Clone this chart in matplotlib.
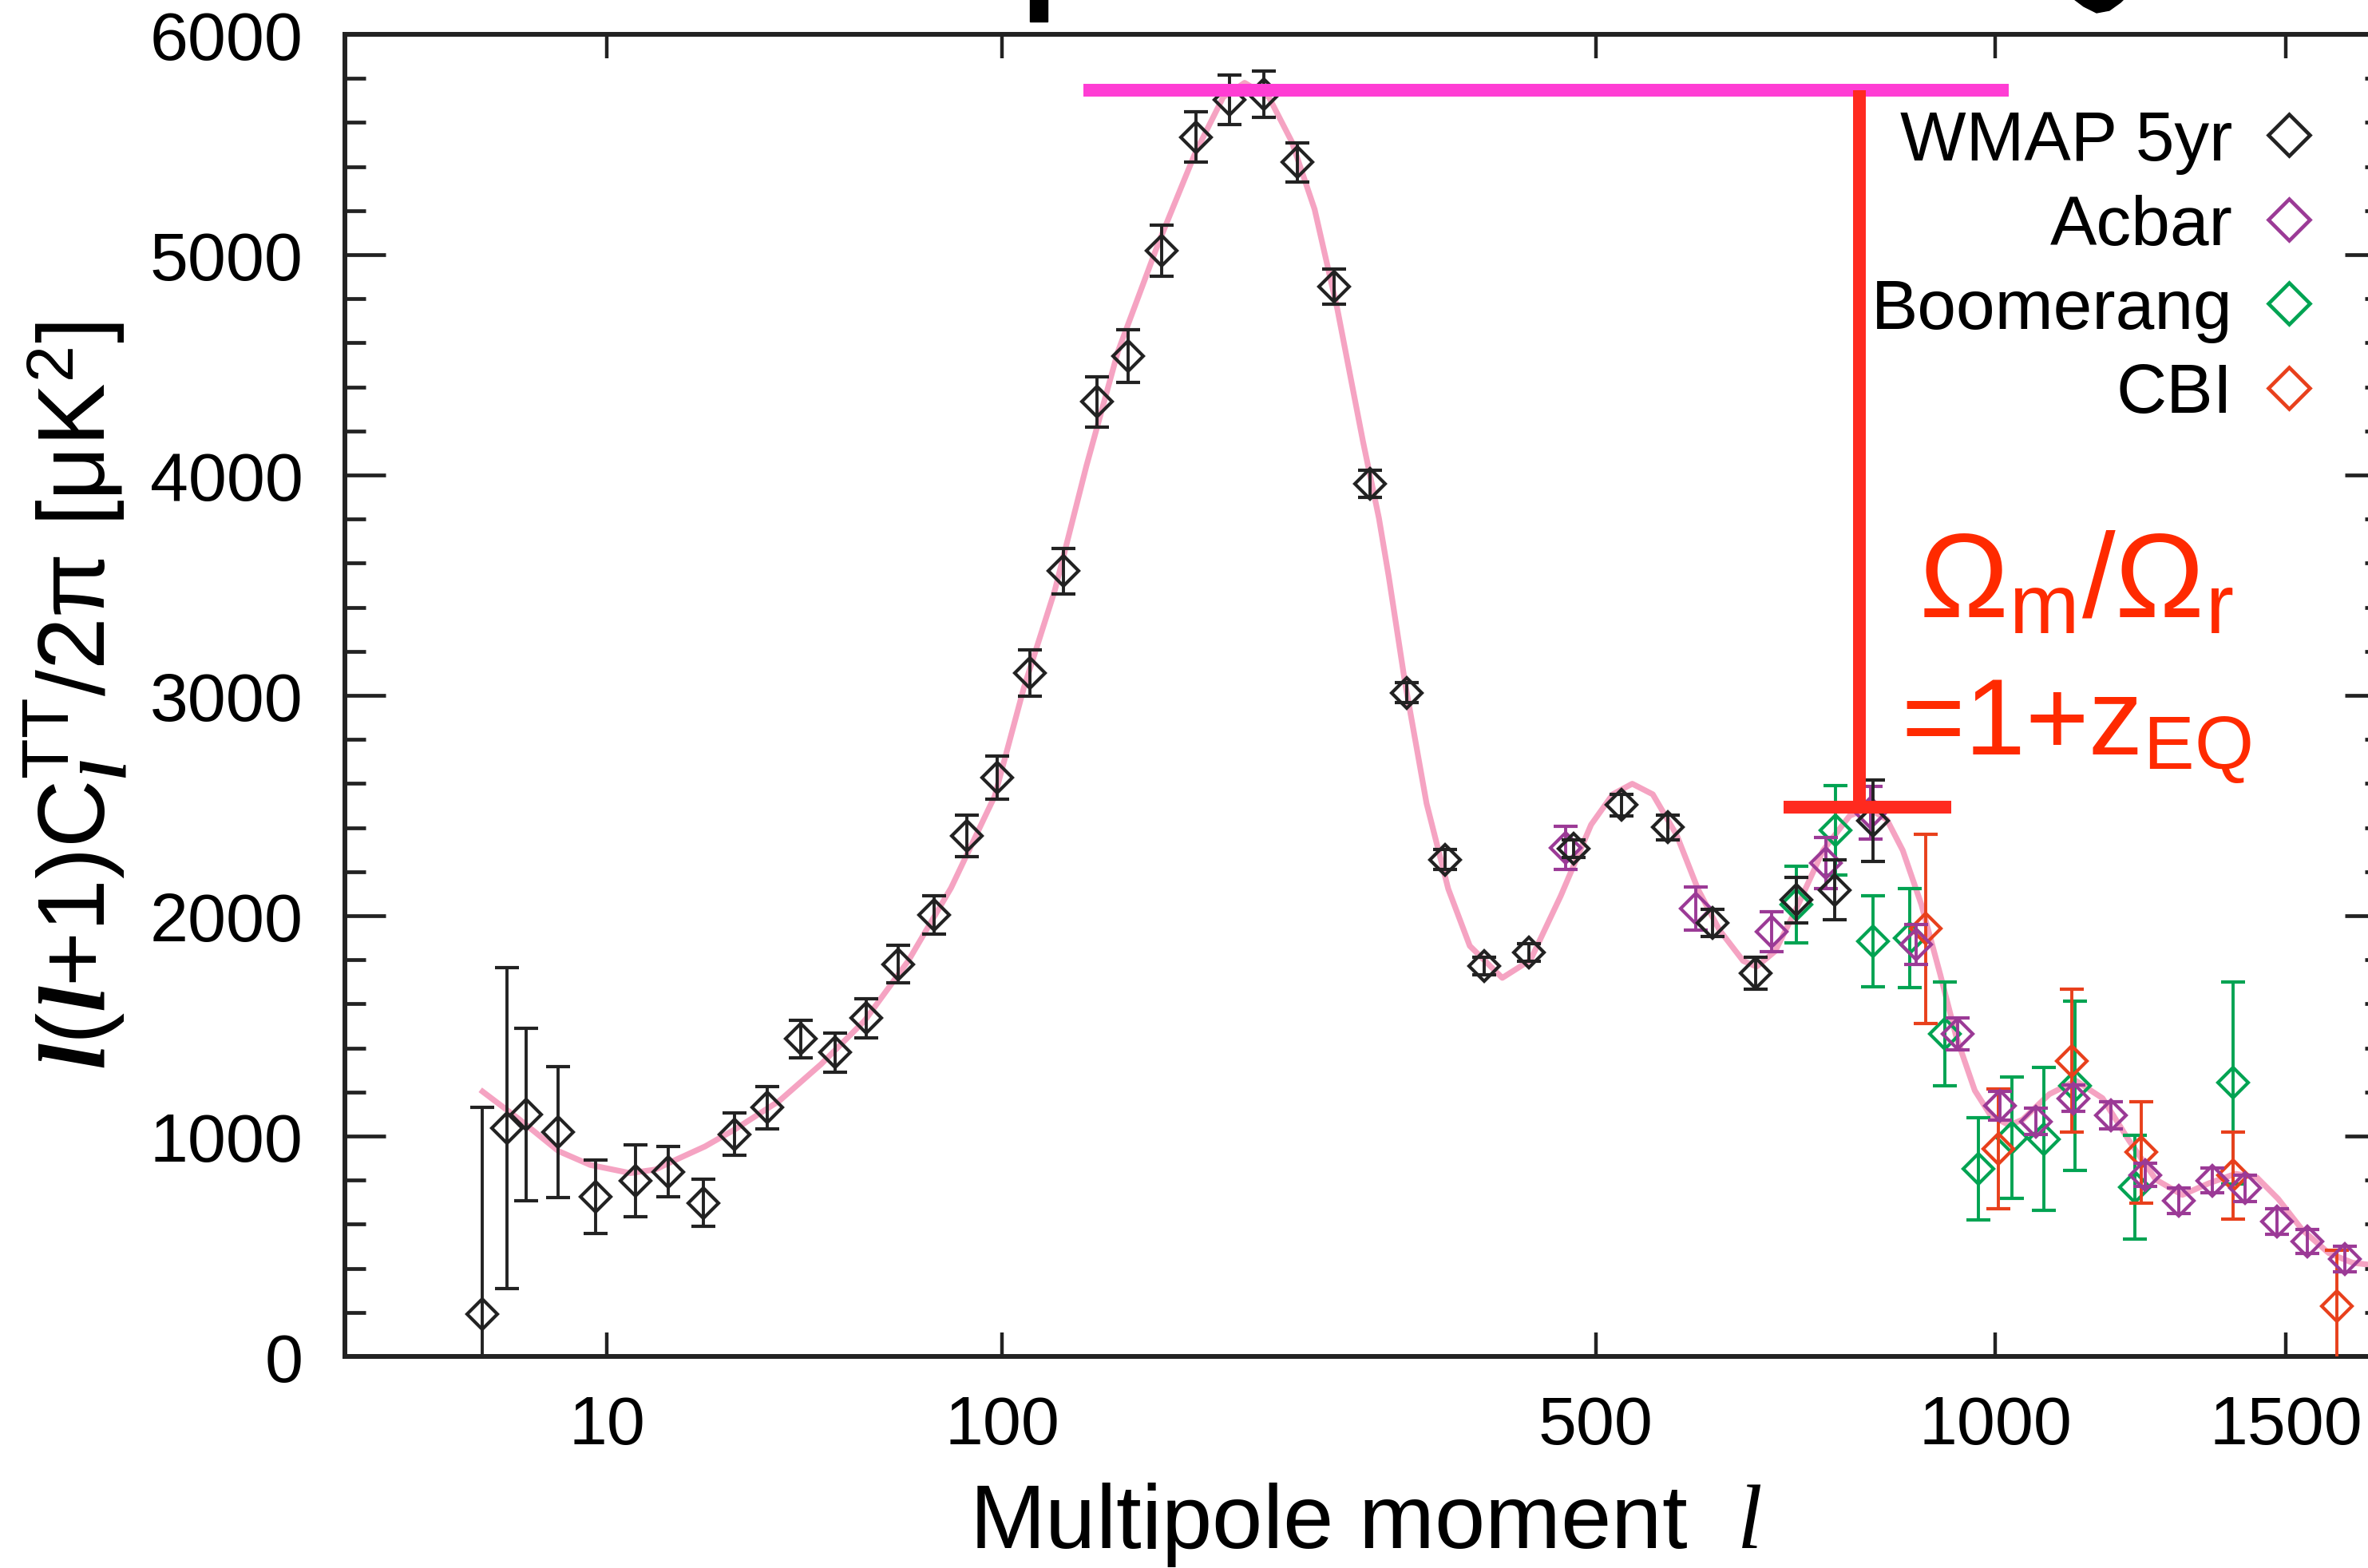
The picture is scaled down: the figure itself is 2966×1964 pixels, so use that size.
import numpy as np
import matplotlib
matplotlib.use('Agg')
from matplotlib import pyplot as plt
from matplotlib.lines import Line2D
from matplotlib.patches import Rectangle, Polygon
from matplotlib.ticker import MultipleLocator, NullLocator

plt.rcParams['font.family'] = ['Liberation Sans', 'DejaVu Sans']
plt.rcParams['mathtext.fontset'] = 'custom'
plt.rcParams['mathtext.rm'] = 'Liberation Sans'
plt.rcParams['mathtext.it'] = 'Liberation Serif:bold:italic'
plt.rcParams['mathtext.sf'] = 'Liberation Serif:italic'
plt.rcParams['mathtext.bf'] = 'Liberation Sans:bold'

# WMAP 5yr binned TT points: multipole, l(l+1)C_l/2pi, error
wmap_l = [2, 3, 4, 6, 9, 13, 17, 22, 27, 33, 40, 48, 56, 65, 76, 87, 98, 111, 125, 140,
          155, 172, 191, 210, 231, 253, 278, 304, 332, 363, 396, 436, 478, 526, 575,
          625, 675, 725, 774, 825]
wmap_v = [193, 1035, 1098, 1019, 724, 796, 838, 697, 1009, 1129, 1441, 1379, 1535, 1780,
          2003, 2362, 2626, 3101, 3564, 4332, 4540, 5017, 5534, 5704, 5727, 5419, 4855,
          3960, 3012, 2255, 1771, 1834, 2303, 2502, 2401, 1967, 1739, 2071, 2117, 2431]
wmap_e = [936, 728, 390, 298, 167, 163, 115, 107, 95, 97, 85, 88, 90, 86, 88, 95, 98, 105,
          104, 113, 118, 116, 115, 113, 105, 90, 78, 62, 45, 45, 39, 40, 40, 49, 56, 61,
          74, 102, 136, 185]

acbar_l = [470, 606, 695, 763, 822, 884, 944, 1007, 1062, 1122, 1184, 1243, 1301, 1362,
           1422, 1483, 1541, 1617]
acbar_v = [2308, 2033, 1927, 2240, 2468, 1869, 1465, 1139, 1067, 1172, 1093, 824, 707, 798,
           763, 613, 522, 443]
acbar_e = [97, 97, 91, 115, 120, 90, 73, 65, 61, 61, 61, 54, 58, 57, 60, 57, 53, 58]

boom_l = [725, 775, 825, 875, 925, 975, 1025, 1075, 1125, 1225, 1400]
boom_v = [2050, 2387, 1883, 1899, 1465, 852, 993, 987, 1228, 768, 1242]
boom_e = [174, 204, 207, 226, 235, 233, 275, 325, 383, 237, 458]

cbi_l = [898, 1005, 1120, 1236, 1400, 1600]
cbi_v = [1941, 943, 1342, 926, 821, 227]
cbi_e = [430, 272, 325, 230, 197, 256]

# best-fit model curve
model_l = [2, 3.6, 6, 8.5, 12.4, 15.3, 17.8, 22.2, 27.2, 35.5, 44.7, 55.6, 68, 81.7, 97.2,
           108.4, 121.3, 135.2, 150, 170.1, 190.2, 206.5, 219.3, 234.4, 249.2, 264.5,
           280.3, 298.7, 310.6, 318, 330.5, 347.6, 365.3, 383.4, 411.7, 437.2, 465.7,
           495.3, 517.1, 537.2, 558.9, 584.8, 608.5, 632.7, 660.6, 676.5, 699, 725.3, 759,
           793.7, 818.5, 843.7, 865.6, 891.7, 918.5, 941.6, 969.1, 993, 1021.4, 1042,
           1083.7, 1126.6, 1170.3, 1215.1, 1261, 1307.7, 1355.8, 1404.6, 1444.6, 1485.1,
           1531.6, 1584.2, 1632.2, 1663.6]
model_v = [1202, 1077, 932, 869, 832, 848, 890, 953, 1032, 1160, 1327, 1524, 1795, 2127,
           2543, 3032, 3478, 4041, 4559, 5044, 5457, 5715, 5780, 5715, 5513, 5206, 4753,
           4154, 3804, 3540, 3060, 2510, 2122, 1863, 1718, 1799, 2090, 2413, 2551, 2599,
           2551, 2366, 2120, 1936, 1795, 1769, 1839, 2033, 2296, 2454, 2489, 2436, 2296,
           2050, 1734, 1453, 1207, 1093, 1049, 1075, 1190, 1251, 1172, 979, 803, 733, 786,
           829, 812, 715, 575, 469, 425, 417]

# annotation: first peak height, third peak height
peak1_l = [134, 1020]
peak1_h = 5745
peak3_l = [709, 934]
peak3_h = 2493
peak3_pos = 807

names = ['WMAP 5yr', 'Acbar', 'Boomerang', 'CBI']
colors = ['#222222', '#9B3A96', '#00A352', '#E8401C']


def fwd(x):
    return np.sign(x) * np.abs(x) ** 0.4


def inv(x):
    return np.sign(x) * np.abs(x) ** 2.5


fig = plt.figure(figsize=(29.66, 19.65), dpi=100)
ax = fig.add_axes([432.4 / 2966, 265 / 1965, 2555.6 / 2966, 1656 / 1965])
ax.set_xscale('function', functions=(fwd, inv))
ax.set_xlim(0, 1700)
ax.set_ylim(0, 6000)

ax.plot(model_l, model_v, color='#F5A3C2', lw=5.2, zorder=1)

sets = [(boom_l, boom_v, boom_e, colors[2], 2),
        (cbi_l, cbi_v, cbi_e, colors[3], 3),
        (acbar_l, acbar_v, acbar_e, colors[1], 4),
        (wmap_l, wmap_v, wmap_e, colors[0], 5)]
for l, v, e, c, z in sets:
    ax.errorbar(l, v, yerr=e, fmt='D', ms=19, mfc='none', mec=c, mew=3.0,
                ecolor=c, elinewidth=2.8, capsize=10.8, capthick=3.3, zorder=z)

ax.plot(peak1_l, [peak1_h, peak1_h], color='#FF3DD4', lw=11.5,
        solid_capstyle='butt', zorder=6)
ax.plot([peak3_pos, peak3_pos], [peak1_h, peak3_h], color='#FF2A1F', lw=11.5,
        solid_capstyle='butt', zorder=7)
ax.plot(peak3_l, [peak3_h, peak3_h], color='#FF2A1F', lw=11.5,
        solid_capstyle='butt', zorder=7)

ax.text(2600 / 2966, 1 - 773 / 1965, 'Ω$_\\mathrm{m}$/Ω$_\\mathrm{r}$',
        transform=fig.transFigure, ha='center', va='baseline', fontsize=108,
        color='#FF2A00')
ax.text(2600 / 2966, 1 - 945 / 1965, '=1+z$_\\mathrm{EQ}$',
        transform=fig.transFigure, ha='center', va='baseline', fontsize=98,
        color='#FF2A00')

handles = [Line2D([], [], ls='none', marker='D', ms=26, mfc='none', mec=c, mew=3.3)
           for c in colors]
ax.legend(handles, names, loc='upper right',
          bbox_to_anchor=(2906 / 2966, 1 - 138 / 1965), bbox_transform=fig.transFigure,
          frameon=False, markerfirst=False, fontsize=63, handlelength=0.9,
          handletextpad=0.35, labelspacing=0.28, borderpad=0, borderaxespad=0)

ax.set_xticks([10, 100, 500, 1000, 1500], labels=['10', '100', '500', '1000', '1500'])
ax.xaxis.set_minor_locator(NullLocator())
ax.set_yticks(range(0, 6001, 1000))
ax.yaxis.set_minor_locator(MultipleLocator(200))
ax.tick_params(axis='both', which='both', direction='in', top=True, right=True,
               labelsize=62, color='#222222')
ax.tick_params(axis='x', which='major', length=21.6, width=3.2, pad=34)
ax.tick_params(axis='y', which='major', length=36.7, width=3.4, pad=38)
ax.tick_params(axis='y', which='minor', length=18.7, width=3.4)
for s in ax.spines.values():
    s.set_linewidth(4.3)
    s.set_color('#222222')

ax.set_xlabel('Multipole moment  $\\mathsf{l}$', fontsize=82)
ax.xaxis.set_label_coords(0.5, -0.1445)
ax.xaxis.label.set_va('baseline')
ax.set_ylabel('$l$($l$+1)C$_{l}^{\\mathrm{TT}}$/2π [μK$^{\\mathrm{2}}$]', fontsize=85)
ax.yaxis.set_label_coords(-0.1324, 0.5)
ax.yaxis.label.set_va('center')

# fragments of artwork cut off at the top edge
fig.add_artist(Rectangle((1290 / 2966, 1 - 28 / 1965), 22 / 2966, 28 / 1965,
                         transform=fig.transFigure, color='black'))
frag = [(2598, 0), (2610, 9), (2626, 17), (2642, 14), (2656, 4), (2660, 0)]
fig.add_artist(Polygon([(x / 2966, 1 - y / 1965) for x, y in frag], closed=True,
                       transform=fig.transFigure, color='black'))

fig.savefig('out.png', dpi=100)
